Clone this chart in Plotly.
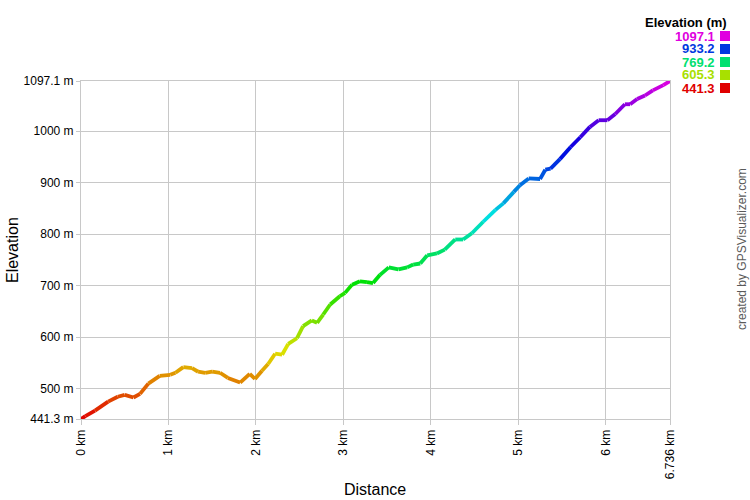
import colorsys
import plotly.graph_objects as go

# ---- data ----
distance_km = [0, 0.05, 0.16, 0.31, 0.42, 0.5, 0.6, 0.675, 0.77, 0.9, 1.02, 1.08, 1.17, 1.27, 1.34,
               1.42, 1.5, 1.59, 1.68, 1.82, 1.93, 1.99, 2.07, 2.14, 2.22, 2.3, 2.37, 2.47, 2.54,
               2.64, 2.70, 2.77, 2.85, 2.96, 3.02, 3.10, 3.19, 3.27, 3.34, 3.42, 3.52, 3.63, 3.73,
               3.8, 3.88, 3.96, 4.07, 4.16, 4.28, 4.37, 4.47, 4.60, 4.74, 4.83, 4.95, 5.02, 5.12,
               5.25, 5.31, 5.37, 5.48, 5.6, 5.71, 5.82, 5.92, 6.02, 6.11, 6.22, 6.28, 6.36, 6.45,
               6.54, 6.66, 6.736]
elevation_m = [441.3, 447, 457.5, 475, 484.5, 488, 483, 490, 510, 525, 527, 531, 542, 540, 533,
               531, 533, 531, 521, 512, 529, 519, 535, 548, 568, 566, 587, 598, 621.6,
               632.6, 628, 644, 663.5, 679.5, 686, 702, 708.5, 707, 705, 721, 735.5, 731.7, 735.5,
               741, 743, 759, 762.5, 770, 789.6, 789.6, 801.7, 824, 847, 859.7, 882, 895, 908,
               907, 925, 927, 946, 969, 988, 1008, 1021, 1021, 1033, 1052, 1052, 1062, 1069,
               1079, 1089, 1097.1]

y_tick_vals = [441.3, 500, 600, 700, 800, 900, 1000, 1097.1]
y_tick_text = ["441.3 m", "500 m", "600 m", "700 m", "800 m", "900 m", "1000 m", "1097.1 m"]
x_tick_vals = [0, 1, 2, 3, 4, 5, 6, 6.736]
x_tick_text = ["0 km", "1 km", "2 km", "3 km", "4 km", "5 km", "6 km", "6.736 km"]
legend_values = [1097.1, 933.2, 769.2, 605.3, 441.3]

E_MIN, E_MAX = 441.3, 1097.1
FONT = "Arial, Liberation Sans, sans-serif"

W, H = 750, 500
PL, PR, PT, PB = 81, 670, 81, 419


def elev_color(e, v=0.88):
    h = 300.0 * (e - E_MIN) / (E_MAX - E_MIN) / 360.0
    r, g, b = colorsys.hsv_to_rgb(h, 1.0, v)
    return "rgb(%d,%d,%d)" % (round(r * 255), round(g * 255), round(b * 255))


fig = go.Figure()
for i in range(len(distance_km) - 1):
    em = (elevation_m[i] + elevation_m[i + 1]) / 2
    fig.add_trace(go.Scatter(
        x=[distance_km[i], distance_km[i + 1]],
        y=[elevation_m[i], elevation_m[i + 1]],
        mode="lines",
        line=dict(color=elev_color(em), width=3.8),
        showlegend=False, hoverinfo="skip",
    ))

GRID = "#c8c8c8"
fig.update_layout(
    width=W, height=H, autosize=False,
    margin=dict(l=PL, r=W - PR, t=PT, b=H - PB, autoexpand=False),
    paper_bgcolor="white", plot_bgcolor="white",
    font=dict(family=FONT, size=12, color="black"),
    showlegend=False,
    xaxis=dict(
        range=[0, 6.736], tickmode="array", tickvals=x_tick_vals, ticktext=x_tick_text,
        tickangle=-90, showgrid=True, gridcolor=GRID, gridwidth=1,
        showline=True, linecolor=GRID, linewidth=1, mirror=True,
        ticks="outside", ticklen=5, tickcolor=GRID, automargin=False,
        zeroline=False, tickfont=dict(size=12, family=FONT, color="black"),
    ),
    yaxis=dict(
        range=[E_MIN, E_MAX], tickmode="array", tickvals=y_tick_vals, ticktext=y_tick_text,
        showgrid=True, gridcolor=GRID, gridwidth=1,
        showline=True, linecolor=GRID, linewidth=1, mirror=True,
        ticks="outside", ticklen=4, tickcolor=GRID, automargin=False,
        zeroline=False, tickfont=dict(size=12, family=FONT, color="black"),
    ),
)


def px_x(px):
    return (px - PL) / float(PR - PL)


def px_y(py):
    return (PB - py) / float(PB - PT)


annotations = [
    dict(text="Distance", x=px_x(375), y=px_y(489), xref="paper", yref="paper",
         xanchor="center", yanchor="middle", showarrow=False,
         font=dict(size=16, family=FONT, color="black")),
    dict(text="Elevation", x=px_x(12), y=px_y(250), xref="paper", yref="paper",
         xanchor="center", yanchor="middle", showarrow=False, textangle=-90,
         font=dict(size=16, family=FONT, color="black")),
    dict(text="<b>Elevation (m)</b>", x=px_x(729), y=px_y(22.5), xref="paper", yref="paper",
         xanchor="right", yanchor="middle", showarrow=False,
         font=dict(size=13, family=FONT, color="black")),
    dict(text="created by GPSVisualizer.com", x=px_x(742), y=px_y(249), xref="paper", yref="paper",
         xanchor="center", yanchor="middle", showarrow=False, textangle=-90,
         font=dict(size=12, family=FONT, color="#5a5a5a")),
]
shapes = []
for k, v in enumerate(legend_values):
    cy = 36 + k * 13
    col = elev_color(v)
    annotations.append(dict(
        text="<b>%.1f</b>" % v, x=px_x(717), y=px_y(cy), xref="paper", yref="paper",
        xanchor="right", yanchor="middle", showarrow=False,
        font=dict(size=13, family=FONT, color=col)))
    shapes.append(dict(type="rect", xref="paper", yref="paper",
                       x0=px_x(720), x1=px_x(730), y0=px_y(cy + 5), y1=px_y(cy - 5),
                       fillcolor=col, line=dict(width=0)))
fig.update_layout(annotations=annotations, shapes=shapes)

fig.write_html("out.html", config={"displayModeBar": False},
               post_script="document.body.style.margin='0px';")
